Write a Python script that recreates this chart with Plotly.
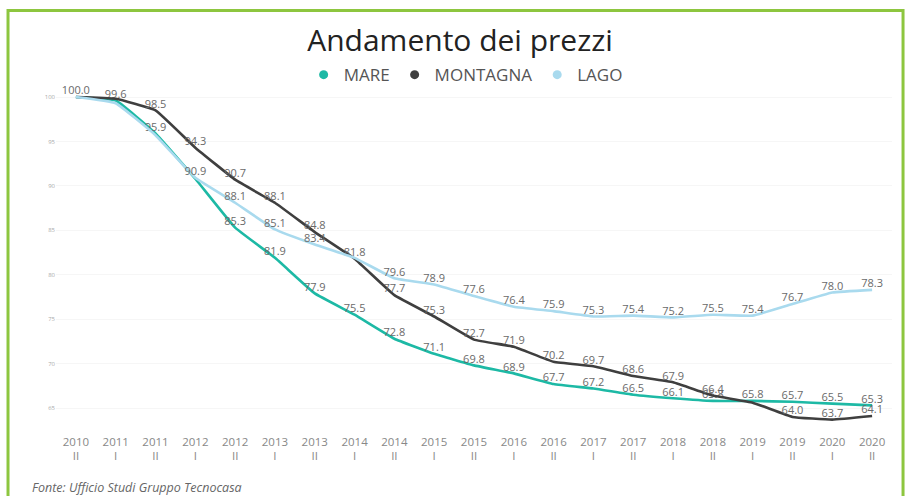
import plotly.graph_objects as go

periods = ["2010<br>II", "2011<br>I", "2011<br>II", "2012<br>I", "2012<br>II", "2013<br>I", "2013<br>II",
           "2014<br>I", "2014<br>II", "2015<br>I", "2015<br>II", "2016<br>I", "2016<br>II", "2017<br>I",
           "2017<br>II", "2018<br>I", "2018<br>II", "2019<br>I", "2019<br>II", "2020<br>I", "2020<br>II"]

mare = [100.0, 99.6, 95.9, 90.8, 85.3, 81.9, 77.9, 75.5, 72.8, 71.1, 69.8, 68.9, 67.7, 67.2,
        66.5, 66.1, 65.8, 65.8, 65.7, 65.5, 65.3]
montagna = [100.0, 99.8, 98.5, 94.3, 90.7, 88.1, 84.8, 81.8, 77.7, 75.3, 72.7, 71.9, 70.2, 69.7,
            68.6, 67.9, 66.4, 65.6, 64.0, 63.7, 64.1]
lago = [100.0, 99.3, 95.7, 90.9, 88.1, 85.1, 83.4, 81.9, 79.6, 78.9, 77.6, 76.4, 75.9, 75.3,
        75.4, 75.2, 75.5, 75.4, 76.7, 78.0, 78.3]

# data labels hidden in the reference (overlapping labels suppressed)
mare_hidden = [0, 3]
montagna_hidden = [1, 17]
lago_hidden = [0, 1, 2, 7]

y_ticks = [65, 70, 75, 80, 85, 90, 95, 100]

series = [("MARE", mare, "#1DB9A5", mare_hidden),
          ("MONTAGNA", montagna, "#3F3F3F", montagna_hidden),
          ("LAGO", lago, "#A9DAEE", lago_hidden)]

fig = go.Figure()
for name, vals, col, hidden in series:
    labels = ["" if i in hidden else f"{v:.1f}" for i, v in enumerate(vals)]
    fig.add_trace(go.Scatter(
        x=periods, y=vals, mode="lines+text", name=name, showlegend=False,
        line=dict(color=col, width=2.6, shape="spline", smoothing=0.3),
        text=labels, textposition="top center",
        textfont=dict(size=11, color="#6A6A6A", family="Open Sans"),
        cliponaxis=False,
    ))
for name, vals, col, hidden in series:
    fig.add_trace(go.Scatter(
        x=[None], y=[None], mode="markers", name=name,
        marker=dict(color=col, size=9, symbol="circle"),
    ))

fig.update_layout(
    width=911, height=496,
    margin=dict(l=56, r=19, t=85, b=71),
    paper_bgcolor="white", plot_bgcolor="white",
    font=dict(family="Open Sans", color="#555"),
    title=dict(text="Andamento dei prezzi", x=0.505, xanchor="center", y=0.918, yanchor="middle",
               font=dict(size=30, color="#222", family="Open Sans")),
    legend=dict(orientation="h", x=0.49, xanchor="center", y=1.029, yanchor="middle",
                font=dict(size=17, color="#555"), itemwidth=30, tracegroupgap=0,
                traceorder="normal"),
    xaxis=dict(type="category", range=[-0.5, 20.5], showgrid=False, zeroline=False, showline=False,
               ticks="", ticklabelstandoff=8, tickfont=dict(size=11.5, color="#888")),
    yaxis=dict(range=[63.09, 101.35], tickvals=y_ticks, ticktext=[str(v) for v in y_ticks],
               showgrid=True, gridcolor="#F6F6F6", zeroline=False, showline=False,
               tickfont=dict(size=6, color="#AAA"), ticks=""),
    shapes=[dict(type="rect", xref="paper", yref="paper", x0=-0.0574, x1=1.0132, y0=-0.3, y1=1.219,
                 line=dict(color="#8DC63F", width=3), fillcolor="rgba(0,0,0,0)", layer="below")],
    annotations=[dict(text="<i>Fonte: Ufficio Studi Gruppo Tecnocasa</i>", xref="paper", yref="paper",
                      x=-0.031, y=-0.183, xanchor="left", yanchor="middle", showarrow=False,
                      font=dict(size=12.5, color="#666"))],
)

fig.write_html("out.html", config={"displayModeBar": False},
               post_script="document.body.style.margin='0px';")
